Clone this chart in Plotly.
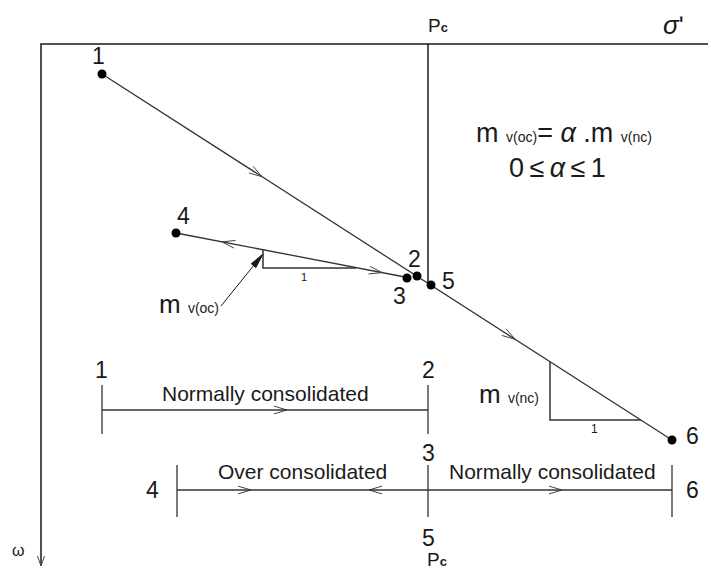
"""
Oedometer loading / unloading path in the sigma' - omega plane,
showing normally consolidated and over consolidated branches.
"""
import numpy as np
import plotly.graph_objects as go

# ---------------------------------------------------------------------------
# Data (diagram units: x = sigma' to the right, y = omega downwards)
# ---------------------------------------------------------------------------
W, H = 708, 569

# frame: sigma' axis along the top, omega axis down the left side
axis_x = [41, 41, 708]
axis_y = [566, 44, 44]

# preconsolidation pressure Pc
pc_x = 428
pc_line_y = [44, 285]

# loading path points 1..6
pt_labels = ['1', '2', '3', '4', '5', '6']
pt_x = [102, 417, 407, 176, 431, 672]
pt_y = [74, 276, 278, 233, 285, 440]
lbl_x = [98, 414, 399, 183, 448, 692]
lbl_y = [56, 259, 296, 216, 281, 436]

# normally consolidated line 1 -> 6, over consolidated line 4 -> 3
nc_x = [102, 672]
nc_y = [74, 440]
oc_x = [176, 405]
oc_y = [233, 277]

# flow arrows along the paths: (tip x, direction +1 right / -1 left)
nc_arrows = [(262, 1), (515, 1)]
oc_arrows = [(222, -1), (382, 1)]

# slope triangles
oc_tri_x = [263, 263, 356]
oc_tri_y = [250, 268, 268]
nc_tri_x = [550, 550, 641]
nc_tri_y = [362, 420, 420]

# pointer to the over consolidated slope
ptr_x = [221, 263]
ptr_y = [306, 254]

# bottom summary bars
bar1_x = [102, 428]
bar1_y = 410
bar1_ticks = [102, 428]
bar1_arrows = [(287, 1)]
bar2_x = [177, 672]
bar2_y = 490
bar2_ticks = [177, 428, 672]
bar2_arrows = [(251, 1), (369, -1), (562, 1)]

INK = '#1a1a1a'
LINE = '#333333'
FONT = 'Liberation Sans, Arial, sans-serif'


def chevron(tip, d, size=13, spread=0.3):
    """Open '>' arrow head at tip pointing along direction d."""
    d = np.asarray(d, float)
    d /= np.hypot(*d)
    n = np.array([-d[1], d[0]])
    tip = np.asarray(tip, float)
    back = tip - d * size
    a = back + n * size * spread
    b = back - n * size * spread
    return [a[0], tip[0], b[0], None], [a[1], tip[1], b[1], None]


def arrows_on(xs, ys, arrows):
    cx, cy = [], []
    dx, dy = xs[1] - xs[0], ys[1] - ys[0]
    for xt, sgn in arrows:
        yt = ys[0] + dy * (xt - xs[0]) / dx
        ax, ay = chevron((xt, yt), (sgn * dx, sgn * dy))
        cx += ax
        cy += ay
    return cx, cy


fig = go.Figure()


def line(x, y, color=LINE, width=1.3):
    fig.add_trace(go.Scatter(x=x, y=y, mode='lines', hoverinfo='skip',
                             line=dict(color=color, width=width)))


# frame and Pc line
line(axis_x, axis_y, INK, 1.5)
line([pc_x, pc_x], pc_line_y, INK, 1.5)

# paths
line(nc_x, nc_y)
line(oc_x, oc_y)

# flow arrows
cx, cy = [], []
for xs, ys, arr in [(nc_x, nc_y, nc_arrows), (oc_x, oc_y, oc_arrows),
                    (bar1_x, [bar1_y] * 2, bar1_arrows),
                    (bar2_x, [bar2_y] * 2, bar2_arrows)]:
    ax, ay = arrows_on(xs, ys, arr)
    cx += ax
    cy += ay
ax, ay = chevron((axis_x[0], axis_y[0]), (0, 1), size=10, spread=0.35)
cx += ax
cy += ay
line(cx, cy, '#444444', 1.0)

# slope triangles
line(oc_tri_x, oc_tri_y, LINE, 1.5)
line(nc_tri_x, nc_tri_y, LINE, 1.5)

# pointer with filled head
line(ptr_x, ptr_y, INK, 1.0)
d = np.array([ptr_x[1] - ptr_x[0], ptr_y[1] - ptr_y[0]], float)
d /= np.hypot(*d)
n = np.array([-d[1], d[0]])
tip = np.array([ptr_x[1], ptr_y[1]])
back = tip - d * 15
tri = [back + n * 3, tip, back - n * 3, back + n * 3]
fig.add_trace(go.Scatter(x=[p[0] for p in tri], y=[p[1] for p in tri],
                         mode='lines', fill='toself', fillcolor=INK,
                         line=dict(color=INK, width=1), hoverinfo='skip'))

# bottom bars
line(bar1_x, [bar1_y] * 2)
for tx in bar1_ticks:
    line([tx, tx], [bar1_y - 25, bar1_y + 24])
line(bar2_x, [bar2_y] * 2)
for tx in bar2_ticks:
    line([tx, tx], [bar2_y - 25, bar2_y + 27])

# points
fig.add_trace(go.Scatter(x=pt_x, y=pt_y, mode='markers', hoverinfo='skip',
                         marker=dict(color='black', size=9)))


def text(x, y, s, size=23, xanchor='center', yanchor='middle', **kw):
    fig.add_annotation(x=x, y=y, text=s, showarrow=False, xanchor=xanchor,
                       yanchor=yanchor,
                       font=dict(family=FONT, size=size, color=INK), **kw)


for s, x, y in zip(pt_labels, lbl_x, lbl_y):
    text(x, y, s)

sub = "<span style='font-size:14px'>%s</span>"
pc = "P<span style='font-size:13px'><b>c</b></span>"
text(426, 25, pc, size=19, xanchor='left')
text(673, 25, "<i>σ</i>ʹ", size=26)
text(18, 550, "ω", size=16)

text(474, 133, "m " + sub % "v(oc)" + "= <i>α</i> .m " + sub % "v(nc)",
     size=27, xanchor='left')
text(507, 168, "0\u2009≤\u2009<i>α</i>\u2009≤\u20091", size=27,
     xanchor='left')

text(157, 304, "m " + sub % "v(oc)", size=26, xanchor='left')
text(477, 394, "m " + sub % "v(nc)", size=26, xanchor='left')
text(304, 277, "1", size=11)
text(594, 429, "1", size=12)

# bar labels
text(101, 370, "1")
text(428, 370, "2")
text(265, 393, "Normally consolidated", size=21)
text(152, 490, "4")
text(692, 490, "6")
text(428, 453, "3")
text(428, 538, "5")
text(425, 559, pc, size=19, xanchor='left')
text(302, 471, "Over consolidated", size=21)
text(552, 471, "Normally consolidated", size=21)

fig.update_layout(
    width=W, height=H,
    margin=dict(l=0, r=0, t=0, b=0),
    showlegend=False,
    paper_bgcolor='white', plot_bgcolor='white',
    xaxis=dict(range=[0, W], visible=False, fixedrange=True),
    yaxis=dict(range=[H, 0], visible=False, fixedrange=True),
)

# drop the browser's default body margin so the diagram fills the window
fig.write_html("out.html", config={'displayModeBar': False},
               post_script="document.body.style.margin='0';"
                           "document.body.style.overflow='hidden';")
